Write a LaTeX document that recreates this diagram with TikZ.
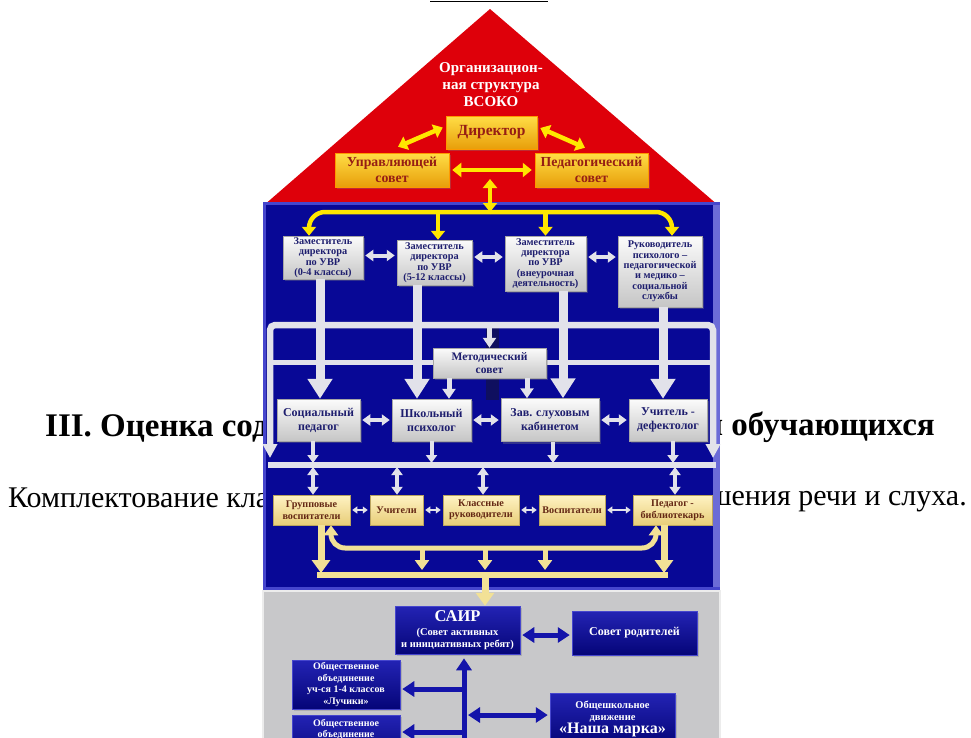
\documentclass[tikz,border=0pt]{standalone}
\usepackage{fontspec}
\setmainfont{Liberation Serif}
\usetikzlibrary{arrows.meta,shadows,calc}
\definecolor{trired}{RGB}{222,0,10}
\definecolor{panelblue}{RGB}{8,8,150}
\definecolor{edgeblue}{RGB}{70,70,205}
\definecolor{panelgrey}{RGB}{200,200,202}
\definecolor{goldA}{RGB}{255,222,70}
\definecolor{goldB}{RGB}{232,158,10}
\definecolor{golddark}{RGB}{150,30,20}
\definecolor{arryellow}{RGB}{255,230,0}
\definecolor{pipegrey}{RGB}{226,226,234}
\definecolor{navytext}{RGB}{30,30,110}
\definecolor{creamA}{RGB}{255,243,195}
\definecolor{creamB}{RGB}{232,205,120}
\definecolor{browntext}{RGB}{100,40,20}
\definecolor{creamc}{RGB}{242,225,150}
\definecolor{boxblueA}{RGB}{35,35,180}
\definecolor{boxblueB}{RGB}{5,5,120}
\definecolor{arrblue}{RGB}{20,20,170}
\definecolor{shadowblue}{RGB}{15,15,95}
\begin{document}
\begin{tikzpicture}[x=1pt,y=-1pt,
  shd/.style={drop shadow={opacity=0.35,shadow xshift=2pt,shadow yshift=-2pt}},
  goldbox/.style={draw=orange!80!yellow, line width=0.5pt, top color=goldA, bottom color=goldB, text=golddark, align=center, inner sep=1pt, shd},
  silverbox/.style={draw=gray!70, line width=0.5pt, top color=gray!3, bottom color=gray!45, text=navytext, align=center, inner sep=1pt, shd},
  creambox/.style={draw=creamB!80!black, line width=0.5pt, top color=creamA, bottom color=creamB, text=browntext, align=center, inner sep=1pt, font=\fontsize{10.2}{11.5}\bfseries\selectfont},
  bluebox/.style={draw=edgeblue, line width=0.5pt, top color=boxblueA, bottom color=boxblueB, text=white, align=center, inner sep=1pt, shd},
  yarr/.style={draw=arryellow, line width=4.5pt, >={Triangle[width=14pt,length=9pt]}},
  pipe/.style={draw=pipegrey, line width=9pt, >={Triangle[width=24pt,length=20pt]}},
  framebar/.style={draw=pipegrey, line width=6.5pt, >={Triangle[width=14pt,length=14pt]}},
  spipe/.style={draw=pipegrey, line width=5pt, >={Triangle[width=13pt,length=10pt]}},
  wdarr/.style={draw=pipegrey, line width=4pt, >={Triangle[width=11pt,length=8pt]}},
  tdarr/.style={draw=pipegrey, line width=2.5pt, >={Triangle[width=7pt,length=5pt]}},
  carr/.style={draw=creamc, line width=5pt, >={Triangle[width=14pt,length=10pt]}},
  cpipe/.style={draw=creamc, line width=7pt, >={Triangle[width=18pt,length=13pt]}},
  barr/.style={draw=arrblue, line width=5pt, >={Triangle[width=15pt,length=12pt]}}
]
\clip (0,0) rectangle (971,737);
\fill[white] (0,0) rectangle (971,737);

% background document text (only the parts beside the picture show)
\begin{scope}
\clip (0,380) rectangle (263,540);
\node[anchor=base west, inner sep=0, font=\fontsize{33}{37}\bfseries\selectfont] (h1) at (45,436) {III. Оценка содержания};
\node[anchor=base west, inner sep=0, font=\fontsize{30}{34}\selectfont] (p1) at (8,507) {Комплектование классов};
\end{scope}
\begin{scope}
\clip (720,380) rectangle (971,540);
\node[anchor=base east, inner sep=0, font=\fontsize{33}{37}\bfseries\selectfont] (h2) at (935,435) {и обучающихся};
\node[anchor=base east, inner sep=0, font=\fontsize{30}{34}\selectfont] (p2) at (967,505) {нарушения речи и слуха.};
\end{scope}
\draw[line width=1pt] (430,1.5) -- (548,1.5);

% panels
\fill[trired] (490,9) -- (719,206) -- (263,206) -- cycle;
\filldraw[fill=panelblue, draw=edgeblue, line width=3pt] (264.5,203.5) rectangle (718.5,588.5);
\fill[edgeblue!80!white] (713,205) rectangle (720,587);
\filldraw[fill=panelgrey, draw=gray!15, line width=2pt] (263,591) rectangle (720,745);

% roof
\node[font=\fontsize{15}{17}\bfseries\selectfont, text=white, align=center] (title) at (491,85) {Организацион-\\ная структура\\ВСОКО};
\node[goldbox, minimum width=91pt, minimum height=33pt, font=\fontsize{15.5}{17}\bfseries\selectfont] (d) at (491.5,132.5) {Директор};
\node[goldbox, minimum width=114pt, minimum height=34pt, font=\fontsize{13.8}{16.5}\bfseries\selectfont] (u) at (392,170) {Управляющей\\совет};
\node[goldbox, minimum width=113pt, minimum height=34pt, font=\fontsize{13.8}{16.5}\bfseries\selectfont] (p) at (591.5,170) {Педагогический\\совет};
\draw[yarr,<->] ([xshift=6pt,yshift=6pt]u.north) -- ([xshift=-3pt,yshift=5pt]d.west);
\draw[yarr,<->] ([xshift=3pt,yshift=4.5pt]d.east) -- ([xshift=-6.5pt,yshift=5pt]p.north);
\draw[yarr,<->] ([xshift=3pt]u.east) -- ([xshift=-3pt]p.west);

% row 1
\node[silverbox, minimum width=80pt, minimum height=43pt, font=\fontsize{10.3}{10.4}\bfseries\selectfont] (z1) at (323,257.5) {Заместитель\\директора\\по УВР\\(0-4 классы)};
\node[silverbox, minimum width=75pt, minimum height=45pt, font=\fontsize{10.3}{10.4}\bfseries\selectfont] (z2) at (434.5,262.5) {Заместитель\\директора\\по УВР\\(5-12 классы)};
\node[silverbox, minimum width=81pt, minimum height=55pt, font=\fontsize{10.3}{10.4}\bfseries\selectfont] (z3) at (545.5,263.5) {Заместитель\\директора\\по УВР\\(внеурочная\\деятельность)};
\node[silverbox, minimum width=84pt, minimum height=71pt, font=\fontsize{10.3}{10.4}\bfseries\selectfont] (z4) at (660,271.5) {Руководитель\\психолого –\\педагогической\\и медико –\\социальной\\службы};

% yellow distribution arrows
\coordinate (yb) at (490,212);
\coordinate (vt) at ($(u.east)!0.5!(p.west)+(-2,9)$);
\draw[yarr,<->] (vt) -- (vt |- yb);
\draw[yarr,->,rounded corners=16pt] (yb) -| ([xshift=-14pt]z1.north);
\draw[yarr,->,rounded corners=16pt] (yb) -| ([xshift=12pt]z4.north);
\coordinate (q2) at ([xshift=3.5pt]z2.north);
\draw[yarr,->] (q2 |- yb) -- (q2);
\draw[yarr,->] (z3.north |- yb) -- (z3.north);

\draw[wdarr,<->] ($(z1.east)+(2,-2)$) -- ($(z2.west)+(-2,-7)$);
\draw[wdarr,<->] ($(z2.east)+(2,-5.5)$) -- ($(z3.west)+(-2,-6.5)$);
\draw[wdarr,<->] ($(z3.east)+(2,-6.5)$) -- ($(z4.west)+(-2,-14.5)$);

% bars
\fill[shadowblue] (486,328) rectangle (499,400);
\draw[draw=pipegrey, line width=5pt] (272,362.5) -- (711,362.5);
\coordinate (fl) at (270,458);
\coordinate (fr) at (713,458);
\draw[framebar,<->,rounded corners=5pt] (fl) -- (270,325) -- (713,325) -- (fr);
\draw[draw=pipegrey, line width=6pt] (268,465) -- (716,465);

% row 2
\node[silverbox, minimum width=83pt, minimum height=42pt, font=\fontsize{12}{14}\bfseries\selectfont] (s1) at (318.5,420) {Социальный\\педагог};
\node[silverbox, minimum width=79pt, minimum height=42pt, font=\fontsize{12}{14}\bfseries\selectfont] (s2) at (431.5,420) {Школьный\\психолог};
\node[silverbox, minimum width=98pt, minimum height=43pt, font=\fontsize{12}{14}\bfseries\selectfont] (s3) at (550,420) {Зав. слуховым\\кабинетом};
\node[silverbox, minimum width=78pt, minimum height=42pt, font=\fontsize{12}{14}\bfseries\selectfont] (s4) at (668,420) {Учитель -\\дефектолог};
\node[silverbox, minimum width=113pt, minimum height=30pt, font=\fontsize{11.5}{13}\bfseries\selectfont] (m) at (489.5,363) {Методический\\совет};

\coordinate (t1) at ([xshift=-3pt]z1.south);
\coordinate (t2) at ([xshift=-17.5pt]z2.south);
\coordinate (t3) at ([xshift=17.5pt]z3.south);
\coordinate (t4) at ([xshift=3pt]z4.south);
\draw[pipe,->] (t1) -- (t1 |- s1.north);
\draw[pipe,->] (t2) -- (t2 |- s2.north);
\draw[pipe,->] (t3) -- (t3 |- s3.north);
\draw[pipe,->] (t4) -- (t4 |- s4.north);

\coordinate (b1) at (0,328);
\draw[spipe,->] (m.north |- b1) -- (m.north);
\coordinate (m2) at ($(m.south)+(-40.5,0)$);
\coordinate (m3) at ($(m.south)+(37.5,0)$);
\draw[spipe,->] (m2) -- (m2 |- s2.north);
\draw[spipe,->] (m3) -- (m3 |- s3.north);

\draw[wdarr,<->] ($(s1.east)+(2,0)$) -- ($(s2.west)+(-2,0)$);
\draw[wdarr,<->] ($(s2.east)+(2,0)$) -- ($(s3.west)+(-2,0)$);
\draw[wdarr,<->] ($(s3.east)+(2,0)$) -- ($(s4.west)+(-2,0)$);

\coordinate (b3) at (0,463);
\coordinate (d1) at ([xshift=-5.5pt]s1.south);
\coordinate (d2) at (s2.south);
\coordinate (d3) at ([xshift=3pt]s3.south);
\coordinate (d4) at ([xshift=5pt]s4.south);
\foreach \k in {d1,d2,d3,d4} {\draw[wdarr,->] (\k) -- (\k |- b3);}

% row 3
\node[creambox, minimum width=77pt, minimum height=30pt] (g1) at (311.5,510) {Групповые\\воспитатели};
\node[creambox, minimum width=53pt, minimum height=30pt] (g2) at (396.5,510) {Учители};
\node[creambox, minimum width=76pt, minimum height=30pt] (g3) at (481,510) {Классные\\руководители};
\node[creambox, minimum width=66pt, minimum height=30pt] (g4) at (572,510) {Воспитатели};
\node[creambox, minimum width=79pt, minimum height=30pt] (g5) at (672.5,510) {Педагог -\\библиотекарь};

\coordinate (b3b) at (0,467);
\coordinate (e1) at ([xshift=1.5pt]g1.north);
\coordinate (e2) at ([xshift=0.5pt]g2.north);
\coordinate (e3) at ([xshift=2pt]g3.north);
\coordinate (e5) at ([xshift=2.5pt]g5.north);
\foreach \k in {e1,e2,e3,e5} {\draw[wdarr,<->] (\k |- b3b) -- (\k);}

\draw[tdarr,<->] ($(g1.east)+(2,0)$) -- ($(g2.west)+(-2,0)$);
\draw[tdarr,<->] ($(g2.east)+(2,0)$) -- ($(g3.west)+(-2,0)$);
\draw[tdarr,<->] ($(g3.east)+(2,0)$) -- ($(g4.west)+(-2,0)$);
\draw[tdarr,<->] ($(g4.east)+(2,0)$) -- ($(g5.west)+(-2,0)$);

\coordinate (ca) at ([xshift=19.5pt]g1.south);
\coordinate (cb) at ([xshift=-16.5pt]g5.south);
\coordinate (cy) at (0,548);
\draw[carr,<->,rounded corners=14pt] (ca) -- (ca |- cy) -- (cb |- cy) -- (cb);
\foreach \xx in {422,485,545} {\draw[carr,->] (\xx,548) -- (\xx,570);}

\coordinate (f1) at ([xshift=9.5pt]g1.south);
\coordinate (f5) at ([xshift=-8.5pt]g5.south);
\coordinate (bb2) at (0,573);
\draw[cpipe,->] (f1) -- (f1 |- bb2);
\draw[cpipe,->] (f5) -- (f5 |- bb2);
\draw[draw=creamc, line width=6pt] (317,575) -- (668,575);

% grey part
\node[bluebox, minimum width=125pt, minimum height=48pt] (sair) at (457.5,630) {{\fontsize{16.5}{18}\bfseries\selectfont САИР}\\[2pt]{\fontsize{10.5}{11}\bfseries\selectfont (Совет активных}\\{\fontsize{10.5}{11}\bfseries\selectfont и инициативных ребят)}};
\node[bluebox, minimum width=125pt, minimum height=44pt, font=\fontsize{12}{14}\bfseries\selectfont] (sr) at (634.5,633) {Совет родителей};
\node[bluebox, minimum width=108pt, minimum height=49pt, font=\fontsize{10}{11.5}\bfseries\selectfont] (l1) at (346,684.5) {Общественное\\объединение\\уч-ся 1-4 классов\\«Лучики»};
\node[bluebox, minimum width=108pt, minimum height=50pt, font=\fontsize{10}{11.5}\bfseries\selectfont] (l2) at (346,740) {Общественное\\объединение\\~\\~};
\node[bluebox, minimum width=125pt, minimum height=52pt] (nm) at (612.5,719) {{\fontsize{10.5}{10.5}\bfseries\selectfont Общешкольное}\\{\fontsize{10.5}{10.5}\bfseries\selectfont движение}\\{\fontsize{16}{18}\bfseries\selectfont «Наша марка»}};

\coordinate (k) at ($(sair.north)+(27.5,0)$);
\coordinate (bb3) at (0,578);
\draw[cpipe,->] (k |- bb3) -- (k);

\draw[barr,<->] ($(sair.east)+(2,5)$) -- ($(sr.west)+(-2,2)$);
\coordinate (tr) at (464,745);
\coordinate (trt) at ($(sair.south)+(6.5,4)$);
\draw[barr,->] (tr) -- (trt);
\coordinate (l1tip) at ($(l1.east)+(2,4.5)$);
\coordinate (l2tip) at ($(l2.east)+(2,-8)$);
\draw[barr,->] (tr |- l1tip) -- (l1tip);
\draw[barr,->] (tr |- l2tip) -- (l2tip);
\coordinate (nmtip) at ($(nm.west)+(-2,-4)$);
\draw[barr,<->] ($(tr |- nmtip)+(4,0)$) -- (nmtip);
\end{tikzpicture}
\end{document}
